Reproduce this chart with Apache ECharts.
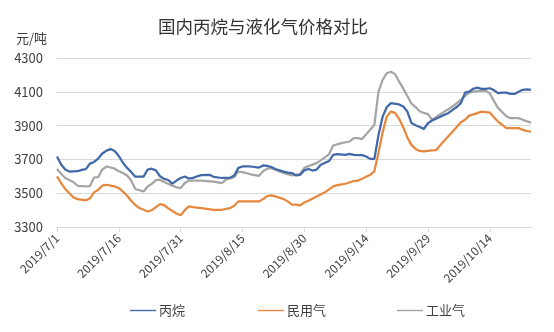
<!DOCTYPE html>
<html>
<head>
<meta charset="utf-8">
<script src="https://cdn.jsdelivr.net/npm/echarts@6/dist/echarts.min.js"></script>
<style>html,body{margin:0;padding:0;background:#fff}#c{width:554px;height:332px}</style>
</head>
<body>
<div id="c"></div>
<script>
// Day offsets from 2019/7/1
var startDate = [2019, 7, 1];
var xTickDays = [0, 15, 30, 45, 60, 75, 90, 105];
var yTicks = [3300, 3500, 3700, 3900, 4100, 4300];
var seriesNames = ['丙烷', '民用气', '工业气'];

var propaneDays = [0,1,2,3,5,6,7,8,9,10,11,12,13,14,15,16,17,18,19,21,22,23,24,25,26,27,28,29,30,31,32,33,34,35,37,38,40,42,43,44,45,47,49,50,51,52,53,55,56,57,58,59,60,61,62,63,64,66,67,68,70,71,72,74,75,76,77,78,79,80,81,83,84,85,86,87,88,89,90,91,93,95,96,97,98,99,100,101,102,103,104,105,106,107,108,109,110,111,112,113,114,115];
var propaneVals = [3717,3670,3640,3628,3630,3638,3642,3675,3685,3705,3735,3752,3761,3750,3720,3680,3650,3625,3598,3598,3640,3645,3635,3600,3585,3578,3556,3575,3590,3599,3587,3590,3600,3607,3609,3597,3590,3592,3605,3650,3658,3658,3652,3664,3662,3655,3643,3628,3622,3619,3605,3609,3635,3643,3634,3640,3668,3690,3727,3731,3727,3733,3727,3725,3717,3703,3703,3845,3953,4009,4033,4025,4013,3983,3915,3902,3892,3880,3914,3930,3953,3975,3993,4010,4033,4095,4101,4118,4125,4117,4117,4121,4110,4092,4095,4095,4088,4087,4100,4112,4115,4111];

var civilDays = [0,1,2,3,4,5,7,8,9,10,11,12,13,14,15,16,17,18,19,20,22,23,25,26,27,28,29,30,31,32,33,35,38,40,42,43,44,47,49,50,51,52,53,55,56,57,58,59,60,61,63,65,67,68,70,72,73,76,77,78,79,80,81,82,83,84,85,86,87,88,89,91,92,94,96,98,99,100,102,103,104,105,106,107,108,109,112,113,114,115];
var civilVals = [3599,3560,3525,3500,3475,3465,3457,3470,3505,3520,3545,3550,3545,3540,3530,3510,3485,3455,3430,3412,3392,3400,3435,3430,3410,3395,3380,3369,3400,3422,3418,3412,3402,3402,3412,3426,3451,3451,3451,3465,3483,3487,3481,3465,3451,3432,3432,3428,3445,3455,3481,3505,3540,3548,3556,3572,3574,3609,3630,3740,3860,3953,3983,3975,3940,3890,3830,3786,3762,3750,3747,3753,3755,3812,3865,3920,3935,3959,3974,3983,3980,3977,3950,3924,3905,3885,3885,3875,3868,3865];

var industDays = [0,1,2,3,4,5,7,8,9,10,11,12,13,14,15,16,17,18,19,21,22,23,24,25,26,28,29,30,31,32,35,38,40,41,43,44,45,47,49,50,51,52,53,55,57,58,59,60,61,63,65,66,67,69,71,72,73,74,76,77,78,79,80,81,82,83,84,85,86,87,88,89,90,91,93,96,98,99,100,101,103,104,105,106,107,108,109,110,112,113,114,115];
var industVals = [3643,3615,3590,3578,3565,3544,3540,3542,3593,3595,3640,3658,3652,3645,3630,3620,3605,3575,3525,3510,3540,3555,3578,3580,3566,3545,3535,3530,3560,3575,3575,3568,3560,3580,3595,3628,3625,3612,3603,3630,3645,3648,3638,3620,3605,3609,3615,3650,3660,3678,3712,3730,3782,3796,3806,3826,3826,3820,3875,3905,4101,4170,4210,4219,4205,4160,4120,4075,4030,4010,3985,3975,3968,3934,3968,4013,4052,4075,4095,4101,4107,4105,4092,4045,4005,3980,3955,3944,3944,3935,3925,3918];

var colors = ['#4169A8', '#E5883E', '#A5A5A5'];

function pairs(days, vals) {
  return days.map(function (d, i) { return [d, vals[i]]; });
}
function dayLabel(v) {
  var d = new Date(startDate[0], startDate[1] - 1, startDate[2] + v);
  return d.getFullYear() + '/' + (d.getMonth() + 1) + '/' + d.getDate();
}

var chart = echarts.init(document.getElementById('c'), null, {renderer: 'canvas'});
var font = '"Microsoft YaHei","Noto Sans CJK SC","Noto Sans",sans-serif';
var legendLefts = [125, 253, 392];
chart.setOption({
  animation: false,
  color: colors,
  textStyle: {fontFamily: font},
  title: [
    {text: '国内丙烷与液化气价格对比', left: 153, top: 13,
     textStyle: {fontSize: 17.5, fontWeight: 'normal', color: '#333333', fontFamily: font}},
    {text: '元/吨', left: 11, top: 27,
     textStyle: {fontSize: 13, fontWeight: 'normal', color: '#404040', fontFamily: font}}
  ],
  legend: seriesNames.map(function (n, i) {
    return {
      bottom: 10, left: legendLefts[i], itemWidth: 26, itemHeight: 10,
      icon: 'path://M0,4.3 L26,4.3 L26,5.7 L0,5.7 Z',
      textStyle: {fontSize: 13, color: '#404040', fontFamily: font, padding: [0, 0, 0, -2]},
      data: [n]
    };
  }),
  grid: {left: 57, right: 23, top: 58, bottom: 105, containLabel: false},
  xAxis: {
    type: 'value', min: 0, max: 115, interval: 15,
    axisLine: {show: true, lineStyle: {color: '#D9D9D9', width: 1}},
    axisTick: {show: true, length: 5, lineStyle: {color: '#D9D9D9'}, customValues: xTickDays},
    splitLine: {show: false},
    axisLabel: {
      rotate: 45, fontSize: 12, color: '#404040', margin: 9,
      customValues: xTickDays, formatter: function (v) { return dayLabel(v); }
    }
  },
  yAxis: {
    type: 'value', min: yTicks[0], max: yTicks[yTicks.length - 1], interval: 200,
    axisLine: {show: false}, axisTick: {show: false},
    splitLine: {lineStyle: {color: '#D9D9D9', width: 1}},
    axisLabel: {fontSize: 13, color: '#404040', margin: 14, formatter: function (v) { return String(v); }}
  },
  series: [
    {name: seriesNames[0], type: 'line', data: pairs(propaneDays, propaneVals), showSymbol: false, lineStyle: {width: 2.25}, z: 4},
    {name: seriesNames[1], type: 'line', data: pairs(civilDays, civilVals), showSymbol: false, lineStyle: {width: 2.25}, z: 3},
    {name: seriesNames[2], type: 'line', data: pairs(industDays, industVals), showSymbol: false, lineStyle: {width: 2.25}, z: 2}
  ]
});
</script>
</body>
</html>
